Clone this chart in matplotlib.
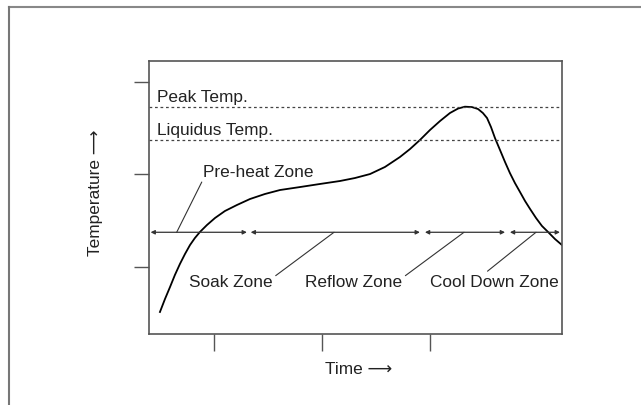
import matplotlib
matplotlib.use("Agg")
import matplotlib.pyplot as plt
from matplotlib.lines import Line2D

plt.rcParams['font.family'] = ['Liberation Sans', 'DejaVu Sans']

# reflow profile (time in s, temperature in arbitrary deg)
time = [30.0, 32.8, 35.6, 38.3, 41.1, 43.9, 46.7, 49.4, 52.2, 56.1, 60.6,
        66.1, 72.8, 80.0, 88.3, 96.7, 107.8, 118.9, 130.0, 138.3, 146.7,
        155.0, 163.3, 168.9, 174.4, 180.0, 185.6, 191.1, 195.6, 199.4,
        203.3, 206.7, 209.4, 211.7, 213.9, 216.1, 218.9, 221.7, 224.4,
        227.2, 230.0, 232.8, 235.6, 238.9, 242.2, 245.6, 249.4, 253.3]
temp = [51.9, 65.9, 78.8, 91.7, 103.6, 114.3, 124.0, 131.5, 138.0, 145.5, 153.1,
        160.6, 167.1, 173.5, 178.9, 183.2, 186.4, 189.7, 192.9, 196.1, 200.4,
        208.0, 218.7, 227.3, 237.0, 247.8, 257.5, 266.1, 270.9, 272.9,
        272.5, 270.4, 266.1, 260.7, 251.0, 239.2, 226.3, 213.3, 201.5,
        190.7, 181.1, 171.4, 162.8, 153.1, 144.5, 138.0, 130.5, 124.0]

peak_temp = 273
liquidus_temp = 237

# zones: start / end on the time axis, drawn at one temperature level
zone_names = ['Pre-heat Zone', 'Soak Zone', 'Reflow Zone', 'Cool Down Zone']
zone_start = [24.8, 80.4, 177.2, 224.4]
zone_end = [78.3, 174.4, 221.7, 252.2]
zone_level = 137.7
leader_at = [39.3, 126.7, 198.9, 238.9]

x_ticks = [60, 120, 180]
y_ticks = [100, 200, 300]

fig = plt.figure(figsize=(6.41, 4.06), dpi=100)
ax = fig.add_axes([0.2324, 0.1749, 0.6448, 0.6731])

ax.plot(time, temp, color='black', lw=1.3, solid_joinstyle='round')

ax.axhline(peak_temp, color='#444444', lw=0.9, ls=(0, (2.2, 2.2)))
ax.axhline(liquidus_temp, color='#444444', lw=0.9, ls=(0, (2.2, 2.2)))
ax.text(28.3, peak_temp + 5.5, 'Peak Temp.', fontsize=12.4, color='#222222', va='baseline')
ax.text(28.3, liquidus_temp + 6.5, 'Liquidus Temp.', fontsize=12.4, color='#222222', va='baseline')

for s, e in zip(zone_start, zone_end):
    ax.annotate('', xy=(e, zone_level), xytext=(s, zone_level),
                arrowprops=dict(arrowstyle='<|-|>', mutation_scale=6, lw=0.9,
                                color='#333333', shrinkA=0, shrinkB=0))

# label text position, alignment and which corner the leader leaves from
label_pos = [(54.0, 198.0), (46.3, 79.9), (164.8, 79.9), (180.0, 79.9)]
label_ha = ['left', 'left', 'right', 'left']
label_rel = [(0.0, 0.0), (1.0, 0.75), (1.0, 0.75), (0.42, 1.0)]
for name, pos, ha, rel, lx in zip(zone_names, label_pos, label_ha, label_rel, leader_at):
    ax.annotate(name, xy=(lx, zone_level), xytext=pos, ha=ha, va='baseline',
                fontsize=12.4, color='#222222',
                arrowprops=dict(arrowstyle='-', lw=0.8, color='#333333',
                                shrinkA=0, shrinkB=0, relpos=rel))

ax.set_xlim(23.9, 253.5)
ax.set_ylim(28.2, 322.4)
ax.set_xticks(x_ticks)
ax.set_yticks(y_ticks)
ax.set_xticklabels([])
ax.set_yticklabels([])
ax.tick_params(axis='x', direction='out', length=12, width=1, color='#555555')
ax.tick_params(axis='y', direction='out', length=11, width=1, color='#555555')
for sp in ax.spines.values():
    sp.set_color('#555555')
    sp.set_linewidth(1.2)

fig.text(95 / 641, 1 - 193 / 406, 'Temperature \u27f6', rotation=90, fontsize=12.4,
         color='#222222', ha='center', va='center')
fig.text(359 / 641, 1 - 370 / 406, 'Time \u27f6', fontsize=12.4,
         color='#222222', ha='center', va='center')

# outer frame (top and left edge only)
fig.add_artist(Line2D([9 / 641, 1], [1 - 7.5 / 406, 1 - 7.5 / 406],
                      transform=fig.transFigure, color='#888888', lw=1.5))
fig.add_artist(Line2D([9 / 641, 9 / 641], [0, 1 - 7.5 / 406],
                      transform=fig.transFigure, color='#777777', lw=1.5))

fig.savefig('out.png', dpi=100)
